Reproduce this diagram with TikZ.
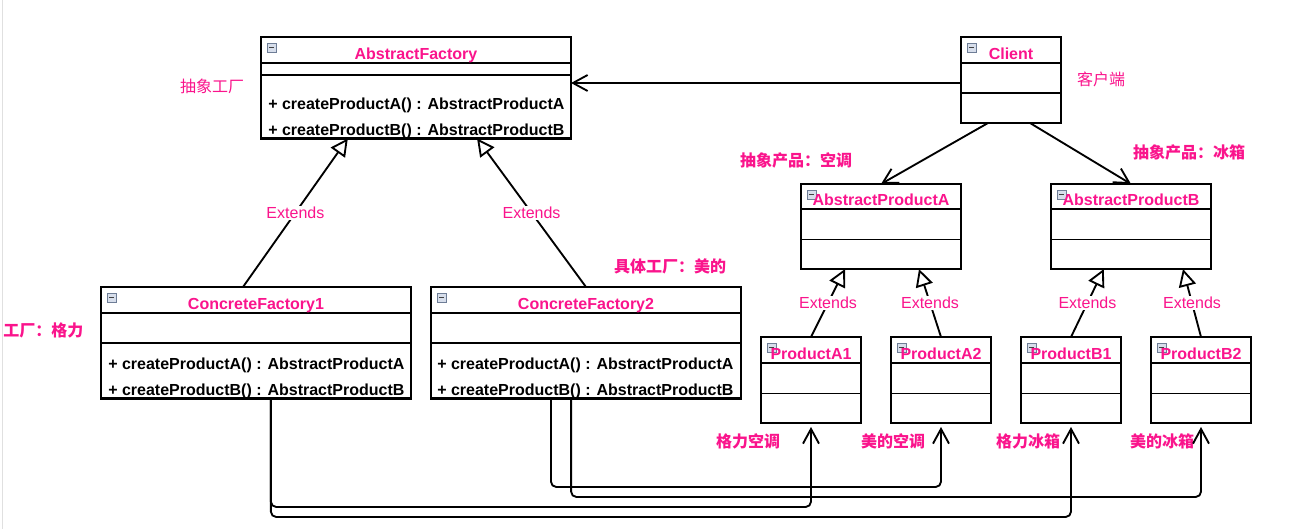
\documentclass[tikz,border=0pt]{standalone}
\usepackage{fontspec}
\setmainfont{Liberation Sans}
\newfontfamily\cjk{Noto Sans CJK SC}
\usetikzlibrary{arrows.meta,calc,fit}

\definecolor{umlpink}{RGB}{250,20,140}
\definecolor{iconedge}{RGB}{110,125,150}
\definecolor{iconfill}{RGB}{215,222,235}

\tikzset{
  classbox/.style={draw, line width=1.8pt, inner sep=0pt, outer sep=0pt},
  classname/.style={text=umlpink, font=\bfseries\fontsize{12}{14}\selectfont, inner sep=0pt, anchor=base},
  method/.style={font=\bfseries\fontsize{12}{14}\selectfont, inner sep=0pt, anchor=base west},
  cnote/.style={text=umlpink, font=\cjk\fontsize{12}{14}\selectfont, inner sep=0pt},
  cnotebold/.style={text=umlpink, font=\cjk\bfseries\fontsize{12}{14}\selectfont, inner sep=0pt},
  extlabel/.style={text=umlpink, font=\fontsize{12}{14}\selectfont, fill=white, inner sep=1pt},
  extends/.style={line width=1.4pt, -{Triangle[open, length=13pt, width=13pt, fill=white]}},
  assoc/.style={line width=1.4pt, -{Straight Barb[length=11pt, width=12pt]}},
  dep/.style={assoc, rounded corners=4pt, shorten >=3pt},
}

% #1 name, #2 #3 #4 #5 corners, #6 title line, #7 thin line, #8 title
\newcommand{\umlclass}[8]{%
  \node[classbox, fit={(#2,#3) (#4,#5)}] (#1) {};
  \draw[line width=1.8pt] (#2,#6) -- (#4,#6); % title
  \draw[line width=0.8pt] (#2,#7) -- (#4,#7); % attributes
  \draw[draw=iconedge, fill=iconfill, line width=0.6pt] ({#2+6},{#3+6}) rectangle ++(9,9); % icon
  \draw[line width=0.9pt, draw=black!75] ({#2+8},{#3+10.5}) -- ++(5,0);
  \node[classname] (#1-title) at ({(#2+#4)/2},{#6-4}) {#8};
}

\begin{document}
\begin{tikzpicture}[x=0.75pt,y=-0.75pt]
  \useasboundingbox (0,0) rectangle (1313,529);
  \draw[line width=0.75pt, draw=black!12] (2,0) -- (2,529); % page edge

  % classes
  \umlclass{af}{261}{37}{571}{138.5}{63}{75}{AbstractFactory}
  \umlclass{cl}{961}{37}{1061}{123}{63}{93}{Client}
  \umlclass{apA}{801}{184}{961}{269}{209}{239.5}{AbstractProductA}
  \umlclass{apB}{1051}{184}{1211}{269}{209}{239.5}{AbstractProductB}
  \umlclass{pa1}{761}{337}{861}{423}{363}{393.5}{ProductA1}
  \umlclass{pa2}{891}{337}{991}{423}{363}{393.5}{ProductA2}
  \umlclass{pb1}{1021}{337}{1121}{423}{363}{393.5}{ProductB1}
  \umlclass{pb2}{1151}{337}{1251}{423}{363}{393.5}{ProductB2}
  \umlclass{cf1}{101}{287}{411}{398.5}{313}{343}{ConcreteFactory1}
  \umlclass{cf2}{431}{287}{741}{398.5}{313}{343}{ConcreteFactory2}

  % methods
  \node[method] (afm1) at (268,109) {+ createProductA() : AbstractProductA};
  \node[method] (afm2) at (268,135) {+ createProductB() : AbstractProductB};
  \node[method] (cf1m1) at (108,369) {+ createProductA() : AbstractProductA};
  \node[method] (cf1m2) at (108,395) {+ createProductB() : AbstractProductB};
  \node[method] (cf2m1) at (437,369) {+ createProductA() : AbstractProductA};
  \node[method] (cf2m2) at (437,395) {+ createProductB() : AbstractProductB};

  % notes
  \node[cnote] (nAf) at (212,86.5) {抽象工厂};
  \node[cnote] (nCl) at (1101,79) {客户端};
  \node[cnotebold] (nApA) at (796,160) {抽象产品：空调};
  \node[cnotebold] (nApB) at (1189,152) {抽象产品：冰箱};
  \node[cnotebold, anchor=west] (nCf1) at (3,330) {工厂：格力};
  \node[cnotebold] (nCf2) at (670,266.5) {具体工厂：美的};
  \node[cnotebold] (nPa1) at (748,441) {格力空调};
  \node[cnotebold] (nPa2) at (893,441) {美的空调};
  \node[cnotebold] (nPb1) at (1028,441) {格力冰箱};
  \node[cnotebold] (nPb2) at (1162,441) {美的冰箱};

  % client associations
  \coordinate (clport) at ([yshift=-2.25pt]cl.west);
  \draw[assoc] (clport) -- (clport -| af.east);
  \draw[assoc] ($(cl.south west)!0.27!(cl.south east)$) -- (apA.north);
  \draw[assoc] ($(cl.south west)!0.69!(cl.south east)$) -- (apB.north);

  % inheritance
  \draw[extends] ($(cf1.north west)!0.458!(cf1.north east)$) -- node[extlabel, midway] (ext1) {Extends} ($(af.south west)!0.28!(af.south east)$);
  \draw[extends] (cf2.north) -- node[extlabel, midway] (ext2) {Extends} ($(af.south west)!0.697!(af.south east)$);
  \draw[extends] (pa1.north) -- node[extlabel, midway] (ext3) {Extends} ($(apA.south west)!0.275!(apA.south east)$);
  \draw[extends] (pa2.north) -- node[extlabel, midway] (ext4) {Extends} ($(apA.south west)!0.7375!(apA.south east)$);
  \draw[extends] (pb1.north) -- node[extlabel, midway] (ext5) {Extends} ($(apB.south west)!0.33!(apB.south east)$);
  \draw[extends] (pb2.north) -- node[extlabel, midway] (ext6) {Extends} ($(apB.south west)!0.825!(apB.south east)$);

  % factories create products
  \draw[dep] ($(cf1.south west)!0.548!(cf1.south east)$) |- ($(pa1.south)+(0,84)$) -- (pa1.south);
  \draw[dep] ($(cf1.south west)!0.548!(cf1.south east)$) |- ($(pb1.south)+(0,94)$) -- (pb1.south);
  \draw[dep] ($(cf2.south west)!0.387!(cf2.south east)$) |- ($(pa2.south)+(0,64)$) -- (pa2.south);
  \draw[dep] ($(cf2.south west)!0.452!(cf2.south east)$) |- ($(pb2.south)+(0,74)$) -- (pb2.south);
\end{tikzpicture}
\end{document}
